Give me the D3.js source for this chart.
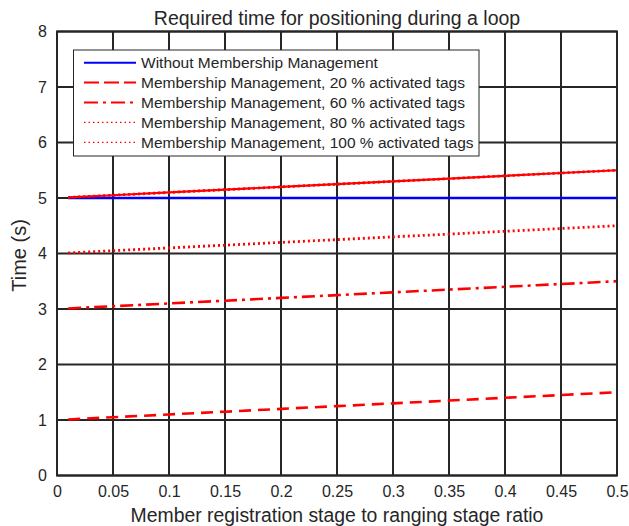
<!DOCTYPE html>
<html><head><meta charset="utf-8">
<script src="https://cdn.jsdelivr.net/npm/d3@7"></script>
<style>body{margin:0;background:#fff}svg{display:block}text{font-family:"Liberation Sans",Arial,sans-serif;fill:#262626}</style>
</head><body><svg id="c" width="629" height="526"></svg>
<script>
const xValues = [0.01, 0.05, 0.1, 0.15, 0.2, 0.25, 0.3, 0.35, 0.4, 0.45, 0.5];
const withoutMM = [5, 5, 5, 5, 5, 5, 5, 5, 5, 5, 5];
const mm20 = [1.01, 1.05, 1.1, 1.15, 1.2, 1.25, 1.3, 1.35, 1.4, 1.45, 1.5];
const mm60 = [3.01, 3.05, 3.1, 3.15, 3.2, 3.25, 3.3, 3.35, 3.4, 3.45, 3.5];
const mm80 = [4.01, 4.05, 4.1, 4.15, 4.2, 4.25, 4.3, 4.35, 4.4, 4.45, 4.5];
const mm100 = [5.01, 5.05, 5.1, 5.15, 5.2, 5.25, 5.3, 5.35, 5.4, 5.45, 5.5];
const xTicks = [0, 0.05, 0.1, 0.15, 0.2, 0.25, 0.3, 0.35, 0.4, 0.45, 0.5];
const yTicks = [0, 1, 2, 3, 4, 5, 6, 7, 8];
const seriesNames = ["Without Membership Management", "Membership Management, 20 % activated tags",
  "Membership Management, 60 % activated tags", "Membership Management, 80 % activated tags",
  "Membership Management, 100 % activated tags"];

const series = [
  {name: seriesNames[0], vals: withoutMM, color: "#0000ff", dash: null},
  {name: seriesNames[1], vals: mm20, color: "#ff0000", dash: "12,7"},
  {name: seriesNames[2], vals: mm60, color: "#ff0000", dash: "13,5,3,5"},
  {name: seriesNames[3], vals: mm80, color: "#ff0000", dash: "2,3"},
  {name: seriesNames[4], vals: mm100, color: "#ff0000", dash: "2,3", solidUnder: true}
];

const svg = d3.select("#c");
const L = 57, R = 617, T = 31.5, B = 475.5;
const x = d3.scaleLinear().domain([0, 0.5]).range([L, R]);
const y = d3.scaleLinear().domain([0, 8]).range([B, T]);
const ink = "#262626";
const FONT = "Liberation Sans, Arial, sans-serif";

// grid
const g = svg.append("g");
g.selectAll(".vx").data(xTicks).enter().append("line")
  .attr("x1", d => x(d)).attr("x2", d => x(d)).attr("y1", T).attr("y2", B)
  .attr("stroke", ink).attr("stroke-width", 2);
g.selectAll(".hy").data(yTicks).enter().append("line")
  .attr("y1", d => y(d)).attr("y2", d => y(d)).attr("x1", L).attr("x2", R)
  .attr("stroke", ink).attr("stroke-width", 2);

// axes (labels)
const xa = svg.append("g").attr("transform", `translate(0,${B})`)
  .call(d3.axisBottom(x).tickValues(xTicks).tickSize(0).tickPadding(10).tickFormat(d => String(d)));
xa.select(".domain").remove();
xa.selectAll("text").attr("font-size", 16).attr("font-family", FONT).attr("fill", ink);
const ya = svg.append("g").attr("transform", `translate(${L},0)`)
  .call(d3.axisLeft(y).tickValues(yTicks).tickSize(0).tickPadding(10).tickFormat(d => String(d)));
ya.select(".domain").remove();
ya.selectAll("text").attr("font-size", 16).attr("font-family", FONT).attr("fill", ink);

// lines
const line = d3.line().x(d => x(d[0])).y(d => y(d[1]));
series.forEach(s => {
  const pts = xValues.map((xv, i) => [xv, s.vals[i]]);
  if (s.solidUnder) {
    svg.append("path").attr("d", line(pts)).attr("fill", "none")
      .attr("stroke", s.color).attr("stroke-width", 2.2);
  }
  svg.append("path").attr("d", line(pts)).attr("fill", "none")
    .attr("stroke", s.color).attr("stroke-width", s.dash === "2,3" ? 2.8 : 2.6)
    .attr("stroke-dasharray", s.dash);
});

// box
svg.append("rect").attr("x", L).attr("y", T).attr("width", R - L).attr("height", B - T)
  .attr("fill", "none").attr("stroke", ink).attr("stroke-width", 2);

// legend
const lg = svg.append("g");
lg.append("rect").attr("x", 73.5).attr("y", 50).attr("width", 405.5).attr("height", 106)
  .attr("fill", "#fff").attr("stroke", ink).attr("stroke-width", 1);
series.forEach((s, i) => {
  const yy = 62.7 + i * 19.9;
  lg.append("line").attr("x1", 84).attr("x2", 136).attr("y1", yy).attr("y2", yy)
    .attr("stroke", s.color).attr("stroke-width", s.dash === "2,3" ? 1.2 : 2)
    .attr("stroke-dasharray", s.dash === "12,7" ? "15,5" : s.dash === "13,5,3,5" ? "14,5,3,5" : s.dash === "2,3" ? "1.5,3" : null);
  lg.append("text").attr("x", 141).attr("y", yy).attr("dy", "0.36em")
    .attr("font-size", 15.5).text(s.name);
});

// titles
svg.append("text").attr("x", (L + R) / 2).attr("y", 24.5).attr("text-anchor", "middle")
  .attr("font-size", 19.5).text("Required time for positioning during a loop");
svg.append("text").attr("x", (L + R) / 2).attr("y", 521.5).attr("text-anchor", "middle")
  .attr("font-size", 19.4).text("Member registration stage to ranging stage ratio");
svg.append("text").attr("transform", `translate(25.5,${(T + B) / 2 + 2}) rotate(-90)`).attr("text-anchor", "middle")
  .attr("font-size", 20).text("Time (s)");
</script></body></html>
